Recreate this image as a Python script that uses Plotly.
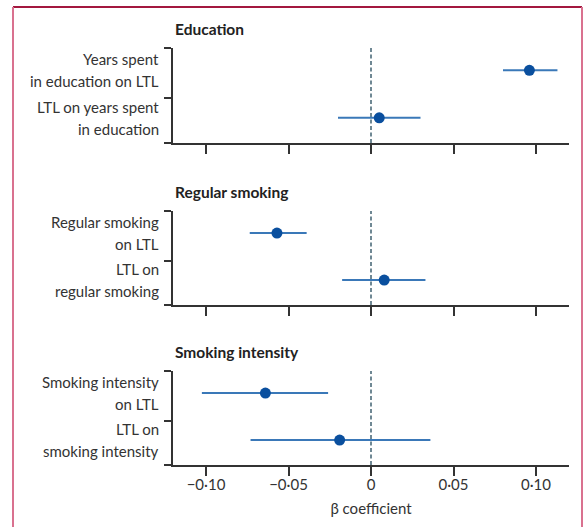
import plotly.graph_objects as go
from plotly.subplots import make_subplots

# ---- data ----
panel_titles = ["Education", "Regular smoking", "Smoking intensity"]
row_labels = [
    [["Years spent", "in education on LTL"], ["LTL on years spent", "in education"]],
    [["Regular smoking", "on LTL"], ["LTL on", "regular smoking"]],
    [["Smoking intensity", "on LTL"], ["LTL on", "smoking intensity"]],
]
beta = [[0.096, 0.005], [-0.057, 0.008], [-0.064, -0.019]]
ci_low = [[0.080, -0.020], [-0.0735, -0.0175], [-0.1025, -0.073]]
ci_high = [[0.113, 0.030], [-0.039, 0.033], [-0.026, 0.036]]
tick_vals = [-0.10, -0.05, 0, 0.05, 0.10]
tick_text = ["\u22120\u00b710", "\u22120\u00b705", "0", "0\u00b705", "0\u00b710"]
x_title = "\u03b2 coefficient"

# ---- layout constants ----
W, H = 585, 527
ML, MR, MT, MB = 173, 16, 48, 62
row_pos = [1.53, 0.53]
mid_tick = 0.94
domains = [[0.7722, 1.0], [0.3837, 0.6091], [0.0, 0.2254]]
line_col = "#3a78b8"
mark_col = "#0a4f9e"
axis_col = "#333333"
txt_col = "#333333"
font_fam = "Lato, 'Open Sans', sans-serif"

fig = make_subplots(rows=3, cols=1)

for i in range(3):
    r = i + 1
    b = beta[i]
    plus = [ci_high[i][k] - b[k] for k in range(2)]
    minus = [b[k] - ci_low[i][k] for k in range(2)]
    fig.add_trace(go.Scatter(
        x=b, y=row_pos, mode="markers",
        marker=dict(size=11, color=mark_col),
        error_x=dict(type="data", array=plus, arrayminus=minus, symmetric=False,
                     width=0, thickness=2, color=line_col),
        showlegend=False, hoverinfo="skip"), row=r, col=1)

    xa = "xaxis" if i == 0 else f"xaxis{r}"
    ya = "yaxis" if i == 0 else f"yaxis{r}"
    fig.layout[xa].update(
        range=[-0.12, 0.12], tickvals=tick_vals, ticktext=tick_text,
        showticklabels=(i == 2), ticks="outside", ticklen=9, tickwidth=1.5,
        tickcolor=axis_col, showline=True, linecolor=axis_col, linewidth=1.5,
        showgrid=False, zeroline=False, ticklabelstandoff=-4,
        tickfont=dict(size=15, color=txt_col, family=font_fam))
    fig.layout[ya].update(
        range=[0, 2], domain=domains[i], tickvals=[0, mid_tick, 2], ticktext=["", "", ""],
        ticks="outside", ticklen=7, tickwidth=1.5, tickcolor=axis_col,
        showline=True, linecolor=axis_col, linewidth=1.5,
        showgrid=False, zeroline=False)

    xref = "x" if i == 0 else f"x{r}"
    yref = "y" if i == 0 else f"y{r}"
    # reference line at zero
    fig.add_shape(type="line", xref=xref, yref=f"{yref} domain", x0=0, x1=0, y0=0, y1=1,
                  line=dict(color="#6f8894", width=2, dash="4px,2.5px"), layer="below")
    # panel title
    fig.add_annotation(text=f"<b>{panel_titles[i]}</b>", xref=f"{xref} domain", yref=f"{yref} domain",
                       x=0, y=1, yshift=8, xanchor="left", yanchor="bottom", showarrow=False,
                       font=dict(size=15.5, color="#222222", family=font_fam))
    # row labels (two lines each)
    for k in range(2):
        for j, line in enumerate(row_labels[i][k]):
            fig.add_annotation(text=line, xref="paper", yref=yref,
                               x=0, xshift=-12, y=row_pos[k], yshift=11 - 22 * j,
                               xanchor="right", yanchor="middle",
                               align="right", showarrow=False,
                               font=dict(size=15, color=txt_col, family=font_fam))

fig.layout.xaxis3.title = dict(text=x_title, font=dict(size=15, color=txt_col, family=font_fam), standoff=12)

fig.update_layout(
    width=W, height=H, margin=dict(l=ML, r=MR, t=MT, b=MB),
    paper_bgcolor="white", plot_bgcolor="white",
    font=dict(family=font_fam, size=15, color=txt_col),
)

# frame lines (pixel positions converted to paper coords)
plot_w = W - ML - MR
plot_h = H - MT - MB
def px_x(p):
    return (p - ML) / plot_w
def px_y(p):
    return (H - MB - p) / plot_h

fig.add_shape(type="line", xref="paper", yref="paper", x0=px_x(13), x1=px_x(582), y0=px_y(7), y1=px_y(7),
              line=dict(color="#a3183f", width=2))
fig.add_shape(type="line", xref="paper", yref="paper", x0=px_x(13), x1=px_x(13), y0=px_y(7), y1=px_y(530),
              line=dict(color="#d9718f", width=2))
fig.add_shape(type="line", xref="paper", yref="paper", x0=px_x(582), x1=px_x(582), y0=px_y(7), y1=px_y(530),
              line=dict(color="#d9718f", width=2))

fig.write_html("out.html", config={"displayModeBar": False},
               post_script="document.body.style.margin='0';document.body.style.overflow='hidden';")
